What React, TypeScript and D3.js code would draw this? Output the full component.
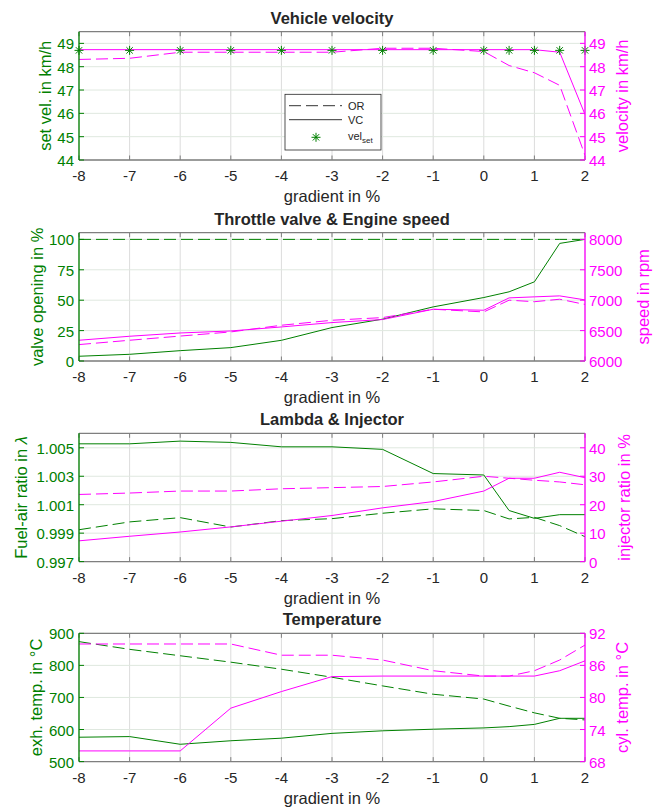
import React from "react";
import * as d3 from "d3";

// ---------- data ----------
const gradient = [-8, -7, -6, -5, -4, -3, -2, -1, 0, 0.5, 1, 1.5, 2];
const xTicks = [-8, -7, -6, -5, -4, -3, -2, -1, 0, 1, 2];

// Vehicle velocity
const velSet = [48.7, 48.7, 48.7, 48.7, 48.7, 48.7, 48.7, 48.7, 48.7, 48.7, 48.7, 48.7, 48.7];
const velVC = [48.73, 48.73, 48.73, 48.73, 48.73, 48.73, 48.73, 48.73, 48.73, 48.73, 48.73, 48.62, 45.95];
const velOR = [48.31, 48.36, 48.62, 48.62, 48.62, 48.62, 48.79, 48.79, 48.65, 48.05, 47.74, 47.2, 44.2];

// Throttle valve & engine speed
const throttleVC = [3.9, 5.5, 8.5, 11, 17, 27.5, 34.4, 44.5, 52.2, 56.9, 65.1, 96.7, 100];
const throttleOR = [100, 100, 100, 100, 100, 100, 100, 100, 100, 100, 100, 100, 100];
const speedVC = [6341, 6407, 6461, 6494, 6560, 6632, 6682, 6851, 6835, 7038, 7055, 7071, 7005];
const speedOR = [6270, 6341, 6410, 6478, 6588, 6670, 6714, 6851, 6807, 7000, 6975, 7016, 6930];

// Lambda & injector
const lambdaVC = [1.00528, 1.00528, 1.00547, 1.00538, 1.00507, 1.00507, 1.00489, 1.00319, 1.00309, 1.00059, 1.00004, 1.0003, 1.0003];
const lambdaOR = [0.99924, 0.99979, 1.00009, 0.99943, 0.99988, 1.00002, 1.0004, 1.00071, 1.00059, 1.0, 1.00011, 0.99953, 0.99875];
const injVC = [7.3, 8.9, 10.4, 12.2, 14.2, 16.2, 18.9, 21.1, 24.8, 29.3, 29.3, 31.4, 29.5];
const injOR = [23.6, 24.1, 24.8, 24.8, 25.6, 26.0, 26.4, 28.0, 30.0, 29.3, 28.6, 28.0, 27.0];

// Temperature
const exhVC = [576, 578, 554, 565, 573, 588, 596, 601, 605, 609, 616, 635, 635];
const exhOR = [874, 850, 830, 810, 788, 763, 736, 710, 695, 673, 652, 635, 630];
const cylVC = [70, 70, 70, 78, 81.1, 83.9, 84, 84, 84, 84, 84, 85, 86.85];
const cylOR = [90, 90, 90, 90, 87.9, 87.9, 87, 85, 84, 84, 85, 87, 89.8];

// Tick values
const velTicks = [44, 45, 46, 47, 48, 49];
const throttleTicks = [0, 25, 50, 75, 100];
const speedTicks = [6000, 6500, 7000, 7500, 8000];
const lambdaTicks = [0.997, 0.999, 1.001, 1.003, 1.005];
const injTicks = [0, 10, 20, 30, 40];
const exhTicks = [500, 600, 700, 800, 900];
const cylTicks = [68, 74, 80, 86, 92];

const legendLabels = ["OR", "VC", "vel"];

// ---------- style ----------
const GREEN = "#008000";
const MAGENTA = "#ff00ff";
const FONT = "'Liberation Sans', Arial, Helvetica, sans-serif";
const DASH = "12 5";

const W = 654;
const H = 807;
const PL = 79;
const PR = 585;
const PH = 128.3;

type Series = { values: number[]; dashed: boolean };
type Panel = {
  title: string;
  top: number;
  leftDomain: [number, number];
  leftTicks: number[];
  leftFmt: (v: number) => string;
  leftLabel: React.ReactNode;
  leftLabelX: number;
  rightDomain: [number, number];
  rightTicks: number[];
  rightLabel: string;
  rightLabelX: number;
  leftSeries: Series[];
  rightSeries: Series[];
  markers?: number[];
};

const fmtInt = (v: number) => String(v);

const panels: Panel[] = [
  {
    title: "Vehicle velocity",
    top: 31.7,
    leftDomain: [44, 49.5],
    leftTicks: velTicks,
    leftFmt: fmtInt,
    leftLabel: "set vel. in km/h",
    leftLabelX: 45,
    rightDomain: [44, 49.5],
    rightTicks: velTicks,
    rightLabel: "velocity in km/h",
    rightLabelX: 622,
    leftSeries: [],
    rightSeries: [
      { values: velOR, dashed: true },
      { values: velVC, dashed: false },
    ],
    markers: velSet,
  },
  {
    title: "Throttle valve & Engine speed",
    top: 232.7,
    leftDomain: [0, 105.5],
    leftTicks: throttleTicks,
    leftFmt: fmtInt,
    leftLabel: "valve opening in %",
    leftLabelX: 37.7,
    rightDomain: [6000, 8110],
    rightTicks: speedTicks,
    rightLabel: "speed in rpm",
    rightLabelX: 643,
    leftSeries: [
      { values: throttleOR, dashed: true },
      { values: throttleVC, dashed: false },
    ],
    rightSeries: [
      { values: speedOR, dashed: true },
      { values: speedVC, dashed: false },
    ],
  },
  {
    title: "Lambda & Injector",
    top: 433.3,
    leftDomain: [0.997, 1.00602],
    leftTicks: lambdaTicks,
    leftFmt: (v: number) => d3.format(".3f")(v),
    leftLabel: (
      <>
        Fuel-air ratio in <tspan fontStyle="italic">λ</tspan>
      </>
    ),
    leftLabelX: 21,
    rightDomain: [0, 45.1],
    rightTicks: injTicks,
    rightLabel: "injector ratio in %",
    rightLabelX: 624,
    leftSeries: [
      { values: lambdaOR, dashed: true },
      { values: lambdaVC, dashed: false },
    ],
    rightSeries: [
      { values: injOR, dashed: true },
      { values: injVC, dashed: false },
    ],
  },
  {
    title: "Temperature",
    top: 633.3,
    leftDomain: [500, 900],
    leftTicks: exhTicks,
    leftFmt: fmtInt,
    leftLabel: "exh. temp. in °C",
    leftLabelX: 36.7,
    rightDomain: [68, 92],
    rightTicks: cylTicks,
    rightLabel: "cyl. temp. in °C",
    rightLabelX: 622,
    leftSeries: [
      { values: exhOR, dashed: true },
      { values: exhVC, dashed: false },
    ],
    rightSeries: [
      { values: cylOR, dashed: true },
      { values: cylVC, dashed: false },
    ],
  },
];

const xScale = d3.scaleLinear().domain([-8, 2]).range([PL, PR]);

function asteriskPath(cx: number, cy: number, r: number) {
  const d = r * 0.7071;
  return (
    `M${cx - r},${cy}L${cx + r},${cy}` +
    `M${cx},${cy - r}L${cx},${cy + r}` +
    `M${cx - d},${cy - d}L${cx + d},${cy + d}` +
    `M${cx - d},${cy + d}L${cx + d},${cy - d}`
  );
}

function PanelView({ p }: { p: Panel }) {
  const bottom = p.top + PH;
  const yL = d3.scaleLinear().domain(p.leftDomain).range([bottom, p.top]);
  const yR = d3.scaleLinear().domain(p.rightDomain).range([bottom, p.top]);
  const lineL = d3
    .line<number>()
    .x((_, i) => xScale(gradient[i]))
    .y((v) => yL(v));
  const lineR = d3
    .line<number>()
    .x((_, i) => xScale(gradient[i]))
    .y((v) => yR(v));
  const midY = (p.top + bottom) / 2;
  const clipId = `clip-${Math.round(p.top)}`;
  return (
    <g>
      <defs>
        <clipPath id={clipId}>
          <rect x={PL} y={p.top - 1} width={PR - PL} height={PH + 2} />
        </clipPath>
      </defs>
      {/* grid */}
      {xTicks.map((t) => (
        <line key={"gx" + t} x1={xScale(t)} x2={xScale(t)} y1={p.top} y2={bottom} stroke="#dcdcdc" strokeWidth={1} />
      ))}
      {p.leftTicks.map((t) => (
        <line key={"gy" + t} x1={PL} x2={PR} y1={yL(t)} y2={yL(t)} stroke="#dfe8df" strokeWidth={1} />
      ))}
      {/* data */}
      <g clipPath={`url(#${clipId})`}>
        {p.leftSeries.map((s, i) => (
          <path key={"l" + i} d={lineL(s.values) || ""} fill="none" stroke={GREEN} strokeWidth={1} strokeDasharray={s.dashed ? DASH : undefined} />
        ))}
        {p.rightSeries.map((s, i) => (
          <path key={"r" + i} d={lineR(s.values) || ""} fill="none" stroke={MAGENTA} strokeWidth={1} strokeDasharray={s.dashed ? DASH : undefined} />
        ))}
      </g>
      {p.markers &&
        p.markers.map((v, i) => (
          <path key={"m" + i} d={asteriskPath(xScale(gradient[i]), yL(v), 4.5)} stroke={GREEN} strokeWidth={1} fill="none" />
        ))}
      {/* box: top & bottom */}
      <line x1={PL} x2={PR} y1={p.top} y2={p.top} stroke="#7f7f7f" strokeWidth={1.3} />
      <line x1={PL} x2={PR} y1={bottom} y2={bottom} stroke="#7f7f7f" strokeWidth={1.3} />
      {xTicks.map((t) => (
        <g key={"xt" + t}>
          <line x1={xScale(t)} x2={xScale(t)} y1={bottom} y2={bottom - 4.5} stroke="#7f7f7f" strokeWidth={1} />
          <line x1={xScale(t)} x2={xScale(t)} y1={p.top} y2={p.top + 4.5} stroke="#7f7f7f" strokeWidth={1} />
          <text x={xScale(t)} y={bottom + 21} textAnchor="middle" fontSize={15} fill="#262626">
            {String(t)}
          </text>
        </g>
      ))}
      {/* left axis */}
      <line x1={PL} x2={PL} y1={p.top} y2={bottom} stroke={GREEN} strokeWidth={1.3} />
      {p.leftTicks.map((t) => (
        <g key={"lt" + t}>
          <line x1={PL} x2={PL + 5} y1={yL(t)} y2={yL(t)} stroke={GREEN} strokeWidth={1} />
          <text x={PL - 5} y={yL(t)} dy="0.4em" textAnchor="end" fontSize={15} fill={GREEN}>
            {p.leftFmt(t)}
          </text>
        </g>
      ))}
      <text
        transform={`translate(${p.leftLabelX},${midY}) rotate(-90)`}
        textAnchor="middle"
        dy="0.35em"
        fontSize={16.5}
        fill={GREEN}
      >
        {p.leftLabel}
      </text>
      {/* right axis */}
      <line x1={PR} x2={PR} y1={p.top} y2={bottom} stroke={MAGENTA} strokeWidth={1.3} />
      {p.rightTicks.map((t) => (
        <g key={"rt" + t}>
          <line x1={PR} x2={PR - 5} y1={yR(t)} y2={yR(t)} stroke={MAGENTA} strokeWidth={1} />
          <text x={PR + 4} y={yR(t)} dy="0.4em" textAnchor="start" fontSize={15} fill={MAGENTA}>
            {String(t)}
          </text>
        </g>
      ))}
      <text
        transform={`translate(${p.rightLabelX},${midY}) rotate(-90)`}
        textAnchor="middle"
        dy="0.35em"
        fontSize={16.5}
        fill={MAGENTA}
      >
        {p.rightLabel}
      </text>
      {/* title & x label */}
      <text x={(PL + PR) / 2} y={p.top - 8} textAnchor="middle" fontSize={16.5} fontWeight="bold" fill="#262626">
        {p.title}
      </text>
      <text x={(PL + PR) / 2} y={bottom + 42} textAnchor="middle" fontSize={16.5} fill="#262626">
        gradient in %
      </text>
    </g>
  );
}

function Legend() {
  const x0 = 285;
  const y0 = 94.3;
  const w = 96;
  const h = 55.7;
  return (
    <g>
      <rect x={x0} y={y0} width={w} height={h} fill="#ffffff" stroke="#262626" strokeWidth={0.8} />
      <line x1={x0 + 4} x2={x0 + 57} y1={y0 + 11.4} y2={y0 + 11.4} stroke="#333" strokeWidth={1} strokeDasharray={DASH} />
      <text x={x0 + 63} y={y0 + 11.4} dy="0.36em" fontSize={11} fill="#262626">
        {legendLabels[0]}
      </text>
      <line x1={x0 + 4} x2={x0 + 57} y1={y0 + 25.4} y2={y0 + 25.4} stroke="#333" strokeWidth={1} />
      <text x={x0 + 63} y={y0 + 25.4} dy="0.36em" fontSize={11} fill="#262626">
        {legendLabels[1]}
      </text>
      <path d={asteriskPath(x0 + 31, y0 + 43, 4.5)} stroke={GREEN} strokeWidth={1} fill="none" />
      <text x={x0 + 63} y={y0 + 42} dy="0.36em" fontSize={11} fill="#262626">
        {legendLabels[2]}
        <tspan fontSize={8} dy="3">set</tspan>
      </text>
    </g>
  );
}

export default function App() {
  return (
    <svg width={W} height={H} style={{ display: "block", position: "absolute", left: 0, top: 0, fontFamily: FONT, background: "#fff" }}>
      <rect x={0} y={0} width={W} height={H} fill="#ffffff" />
      {panels.map((p) => (
        <PanelView key={p.title} p={p} />
      ))}
      <Legend />
    </svg>
  );
}
